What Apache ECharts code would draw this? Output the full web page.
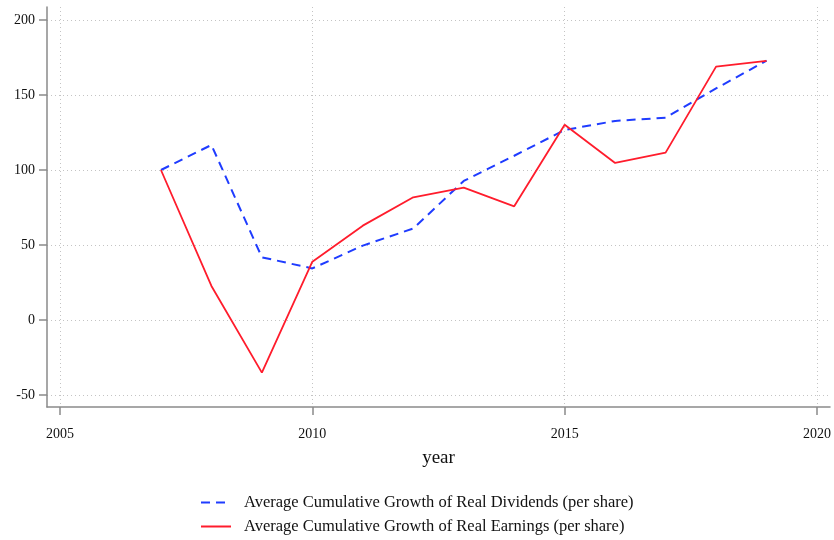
<!DOCTYPE html>
<html>
<head>
<meta charset="utf-8">
<script src="https://cdn.jsdelivr.net/npm/echarts@6/dist/echarts.min.js"></script>
<style>
  html, body { margin: 0; padding: 0; background: #fff; }
  #main { width: 834px; height: 540px; }
</style>
</head>
<body>
<div id="main"></div>
<script>
// data
var years = [2007, 2008, 2009, 2010, 2011, 2012, 2013, 2014, 2015, 2016, 2017, 2018, 2019];
var dividends = [100, 116.7, 41.8, 34.4, 49.6, 61, 92.7, 109.5, 126.7, 132.7, 134.9, 154.4, 172.9];
var earnings = [100, 22.7, -35.1, 38.9, 62.9, 81.8, 88.2, 75.8, 130.2, 104.7, 111.6, 168.9, 172.7];
var xTicks = [2005, 2010, 2015, 2020];
var yTicks = [-50, 0, 50, 100, 150, 200];

var serif = '"Liberation Serif", "DejaVu Serif", serif';

function pairs(xs, ys) {
    return xs.map(function (x, i) { return [x, ys[i]]; });
}

var dom = document.getElementById('main');
var myChart = echarts.init(dom, null, { renderer: 'canvas' });

var option = {
    animation: false,
    backgroundColor: '#fff',
    grid: {
        left: 47,
        right: 4,
        top: 7,
        bottom: 133
    },
    legend: {
        orient: 'vertical',
        left: 200,
        top: 494,
        padding: 0,
        itemWidth: 30,
        itemHeight: 12,
        itemGap: 7,
        itemStyle: { opacity: 0 },
        textStyle: {
            fontFamily: serif,
            fontSize: 16.5,
            color: '#111',
            padding: [0, 0, 0, 8]
        },
        data: [
            'Average Cumulative Growth of Real Dividends (per share)',
            'Average Cumulative Growth of Real Earnings (per share)'
        ]
    },
    xAxis: {
        type: 'value',
        min: 2004.742,
        max: 2020.257,
        name: 'year',
        nameLocation: 'middle',
        nameGap: 42,
        nameTextStyle: {
            fontFamily: serif,
            fontSize: 19,
            color: '#111'
        },
        axisLine: {
            onZero: false,
            lineStyle: { color: '#8a8a8a', width: 1.5 }
        },
        axisTick: {
            show: true,
            length: 8,
            customValues: xTicks,
            lineStyle: { color: '#8a8a8a', width: 1.5 }
        },
        axisLabel: {
            customValues: xTicks,
            margin: 20,
            fontFamily: serif,
            fontSize: 14,
            color: '#111',
            formatter: function (v) { return String(v); }
        },
        splitLine: {
            show: true,
            lineStyle: { color: '#c4c4c4', type: [1, 3], width: 1 }
        }
    },
    yAxis: {
        type: 'value',
        min: -58,
        max: 208.67,
        axisLine: {
            show: true,
            onZero: false,
            lineStyle: { color: '#8a8a8a', width: 1.5 }
        },
        axisTick: {
            show: true,
            length: 8,
            customValues: yTicks,
            lineStyle: { color: '#8a8a8a', width: 1.5 }
        },
        axisLabel: {
            customValues: yTicks,
            margin: 12,
            fontFamily: serif,
            fontSize: 14,
            color: '#111',
            formatter: function (v) { return String(v); }
        },
        splitLine: {
            show: true,
            lineStyle: { color: '#c4c4c4', type: [1, 3], width: 1 }
        }
    },
    series: [
        {
            name: 'Average Cumulative Growth of Real Dividends (per share)',
            type: 'line',
            showSymbol: false,
            symbol: 'none',
            color: '#1f3cff',
            lineStyle: { color: '#1f3cff', width: 2, type: [9, 6] },
            data: pairs(years, dividends)
        },
        {
            name: 'Average Cumulative Growth of Real Earnings (per share)',
            type: 'line',
            showSymbol: false,
            symbol: 'none',
            color: '#ff1c2c',
            lineStyle: { color: '#ff1c2c', width: 1.8 },
            data: pairs(years, earnings)
        }
    ]
};

if (option && typeof option === 'object') {
    myChart.setOption(option);
}
</script>
</body>
</html>
